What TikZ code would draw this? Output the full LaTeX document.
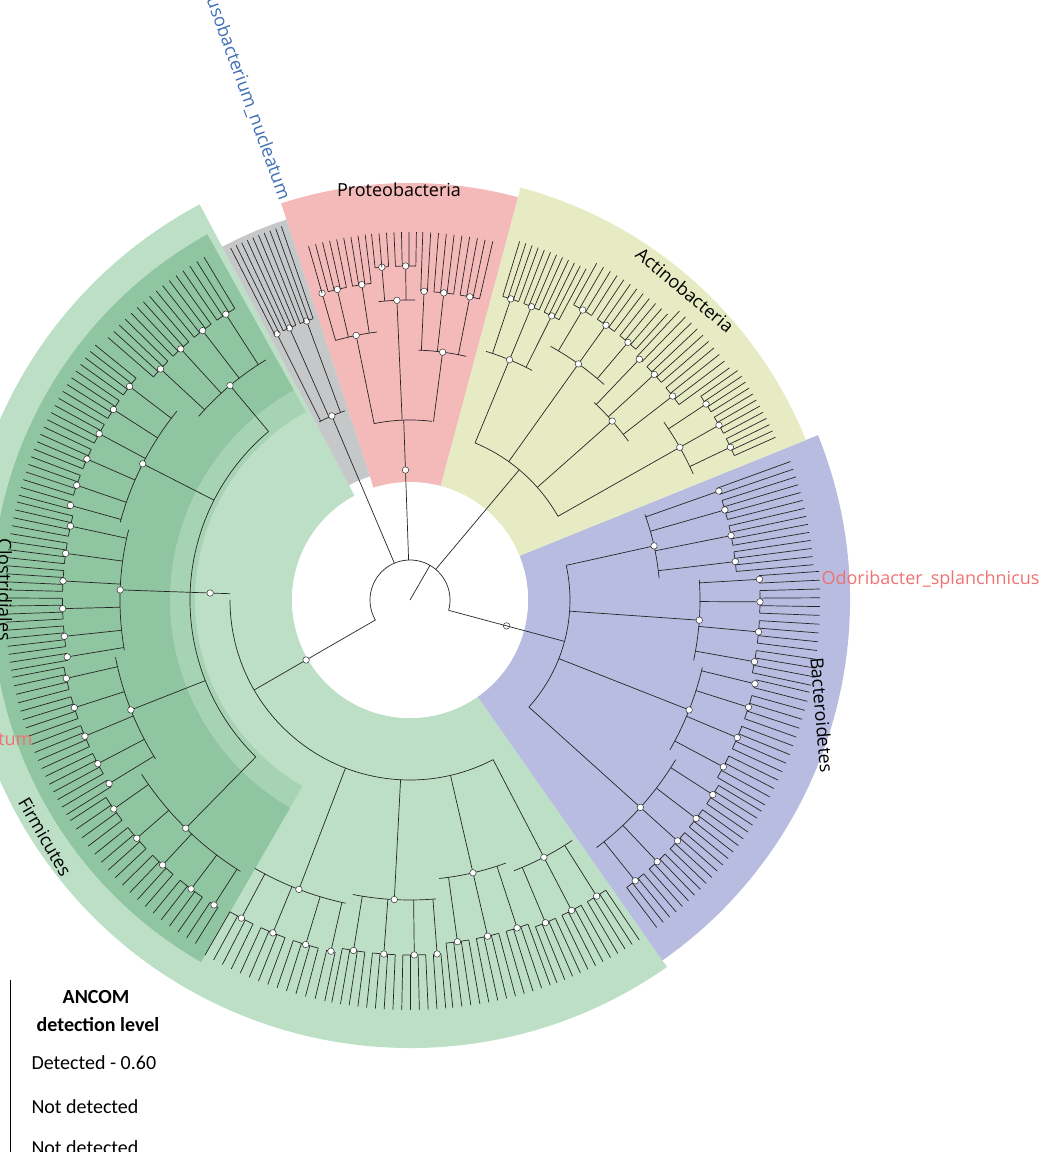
\documentclass[tikz,border=0pt]{standalone}
\usepackage{fontspec}
\setmainfont{Open Sans}
\newfontfamily\legfont{Carlito}
\definecolor{cpink}{HTML}{F4B9B9}
\definecolor{cgrey}{HTML}{C6C7C9}
\definecolor{cyel}{HTML}{E7EBC3}
\definecolor{cpur}{HTML}{B7BCE0}
\definecolor{cgl}{HTML}{BCDFC6}
\definecolor{cgm}{HTML}{A6D3B3}
\definecolor{cgd}{HTML}{8FC5A0}
\definecolor{cblue}{HTML}{3F6FB5}
\definecolor{csal}{HTML}{F07272}
\tikzset{br/.style={line width=0.7pt,black!85},
dt/.style={circle,draw=black!80,fill=white,inner sep=0pt,minimum size=6.5pt,line width=0.5pt},
lab/.style={font=\fontsize{18}{18}\selectfont}}
\newcommand\sector[5]{\fill[#1] (#2:#4pt) arc[start angle=#2,end angle=#3,radius=#4pt] -- (#3:#5pt) arc[start angle=#3,end angle=#2,radius=#5pt] -- cycle;}
\newcommand\cl[6]{%
 \pgfmathsetmacro\clst{(#2-#1)/(#3-1)}%
 \pgfmathsetmacro\clrs{#4+0.5*(#6-#4)}%
 \pgfmathtruncatemacro\clG{ceil(#3/4)-1}%
 \pgfmathtruncatemacro\clN{#3-1}%
 \pgfmathsetmacro\clmid{(#1+#2)/2}%
 \draw[br] (\clmid:#5pt) -- (\clmid:#4pt);
 \draw[br] (#1:#4pt) arc[start angle=#1,end angle=#2,radius=#4pt];
 \foreach \g in {0,...,\clG}{
   \pgfmathsetmacro\ga{#1+4*\g*\clst}
   \pgfmathsetmacro\gb{min(#1+(4*\g+3)*\clst,#2)}
   \pgfmathsetmacro\gm{(\ga+\gb)/2}
   \draw[br] (\gm:#4pt)--(\gm:\clrs pt);
   \draw[br] (\ga:\clrs pt) arc[start angle=\ga,end angle=\gb,radius=\clrs pt];
   \node[dt] at (\gm:\clrs pt){};
 }
 \foreach \i in {0,...,\clN}{
   \pgfmathsetmacro\aa{#1+\i*\clst}
   \draw[br] (\aa:\clrs pt)--(\aa:#6pt);
 }
 \node[dt] at (\clmid:#4pt){};
}
\begin{document}
\begin{tikzpicture}[x=1pt,y=1pt]
\useasboundingbox (0,0) rectangle (1061,1152);
\begin{scope}[shift={(410,552)}]
\sector{cgl}{118}{305}{118}{448}
\sector{cgm}{119}{240}{215}{418}
\sector{cgd}{119}{240}{240}{418}
\sector{cpur}{-55}{22}{118}{440}
\sector{cyel}{22}{75}{118}{427}
\sector{cpink}{75}{108}{108}{417}
\sector{cgrey}{108}{118}{130}{400}
\fill[white] (0,0) circle[radius=118pt];
% root
\draw[br] (-15:40pt) arc[start angle=-15,end angle=210,radius=40pt];
\draw[br] (0,0) -- (60:40pt);
\node[dt] at (-15:100pt){};
\draw[br] (-15:40pt)--(-15:160pt);
\draw[br] (50:40pt)--(50:170pt);
\draw[br] (92:40pt)--(92:180pt);
\draw[br] (210:40pt)--(210:180pt);
\node[dt] at (92:130pt){};
\node[dt] at (210:120pt){};
\draw[br] (-42:160pt) arc[start angle=-42,end angle=12.5,radius=160pt];
\draw[br] (29.5:170pt) arc[start angle=29.5,end angle=67.5,radius=170pt];
\draw[br] (83:180pt) arc[start angle=83,end angle=101.5,radius=180pt];
\draw[br] (180:180pt) arc[start angle=180,end angle=297.5,radius=180pt];
\draw[br] (130:220pt) arc[start angle=130,end angle=225.5,radius=220pt];
\draw[br] (178:180pt)--(178:220pt);
\node[dt] at (178:200pt){};
% Proteobacteria
\cl{77}{88}{10}{250}{180}{368}
\cl{89}{96}{7}{300}{180}{368}
\cl{97}{106}{9}{270}{180}{368}
% grey
\cl{109}{117}{10}{200}{40}{395}
% Actinobacteria
\cl{62}{73}{12}{260}{170}{375}
\cl{48}{61}{12}{290}{170}{385}
\cl{36}{47}{10}{270}{170}{395}
\cl{24}{35}{12}{310}{170}{400}
% Bacteroidetes
\cl{5}{20}{14}{250}{160}{405}
\cl{-12}{4}{14}{290}{160}{410}
\cl{-30}{-13}{14}{300}{160}{410}
\cl{-53}{-31}{20}{310}{160}{410}
% Clostridiales
\cl{121}{139}{16}{280}{220}{400}
\cl{141}{165}{22}{300}{220}{405}
\cl{166}{190}{22}{290}{220}{405}
\cl{191}{212}{18}{300}{220}{405}
\cl{213}{238}{18}{320}{220}{405}
% Firmicutes bottom
\cl{240}{258}{14}{310}{180}{410}
\cl{259}{275}{14}{300}{180}{410}
\cl{276}{290}{12}{280}{180}{410}
\cl{291}{304}{12}{290}{180}{410}
\end{scope}
% labels
\node[lab] (pro) at (399,962) {Proteobacteria};
\node[lab,rotate=-40] (act) at (685,862) {Actinobacteria};
\node[lab,rotate=-85] (bac) at (822,437) {Bacteroidetes};
\node[lab,rotate=-60] (fir) at (45,315) {Firmicutes};
\node[lab,rotate=-90] (clo) at (5,562) {Clostridiales};
\node[lab,rotate=-70,text=cblue,anchor=south west] (fus) at (196,1162) {Fusobacterium\_nucleatum};
\node[lab,text=csal,anchor=west] (odo) at (818,572) {Odoribacter\_splanchnicus};
\node[lab,text=csal,anchor=east] (tum) at (36,412) {tum};
% legend
\draw[line width=0.8pt] (10,0) -- (10,172);
\begin{scope}[font=\legfont\fontsize{20}{20}\selectfont]
\node[font=\legfont\bfseries\fontsize{20}{20}\selectfont] (l1) at (96,155) {ANCOM};
\node[font=\legfont\bfseries\fontsize{20}{20}\selectfont] (l2) at (98,127) {detection level};
\node[anchor=west] (l3) at (28,89) {Detected - 0.60};
\node[anchor=west] (l4) at (28,45) {Not detected};
\node[anchor=west] (l5) at (28,4) {Not detected};
\end{scope}
\end{tikzpicture}
\end{document}
